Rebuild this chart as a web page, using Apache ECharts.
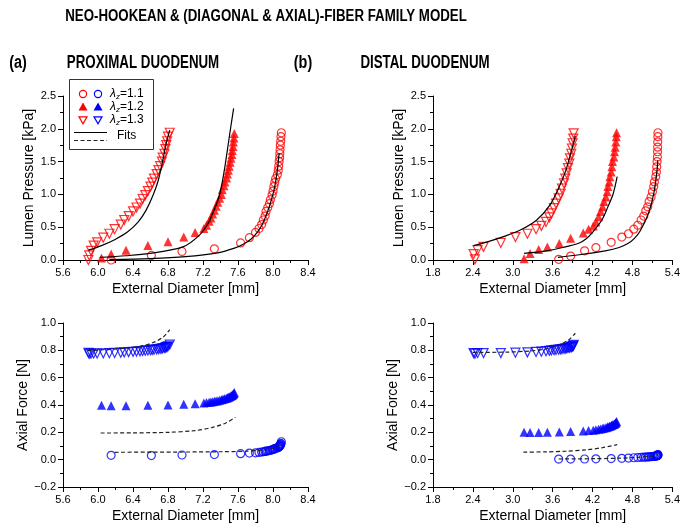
<!DOCTYPE html>
<html><head><meta charset="utf-8">
<script src="https://cdn.jsdelivr.net/npm/echarts@6/dist/echarts.min.js"></script>
<style>html,body{margin:0;padding:0;background:#fff}#c{width:683px;height:530px}</style>
</head><body><div id="c"></div>
<script>
// ---------- PROXIMAL DUODENUM (measured) ----------
const pD11 = [6.15, 6.61, 6.96, 7.33, 7.63, 7.73, 7.80, 7.84, 7.87, 7.89, 7.91, 7.92, 7.94, 7.96, 7.97, 7.99, 8.00, 8.01, 8.02, 8.03, 8.05, 8.06, 8.065, 8.07, 8.076, 8.078, 8.08, 8.084, 8.088, 8.091, 8.095];
const pP11 = [0.00, 0.07, 0.13, 0.17, 0.26, 0.34, 0.42, 0.48, 0.54, 0.61, 0.67, 0.74, 0.80, 0.86, 0.92, 0.99, 1.05, 1.12, 1.18, 1.24, 1.30, 1.37, 1.43, 1.50, 1.56, 1.62, 1.68, 1.75, 1.81, 1.88, 1.94];
const pF11 = [0.032, 0.030, 0.034, 0.037, 0.044, 0.048, 0.050, 0.053, 0.056, 0.058, 0.060, 0.062, 0.064, 0.067, 0.069, 0.072, 0.075, 0.077, 0.080, 0.083, 0.086, 0.089, 0.092, 0.095, 0.098, 0.101, 0.104, 0.108, 0.113, 0.119, 0.131];

const pD12 = [6.04, 6.15, 6.32, 6.57, 6.80, 6.98, 7.11, 7.21, 7.24, 7.27, 7.29, 7.31, 7.33, 7.35, 7.37, 7.39, 7.41, 7.42, 7.44, 7.45, 7.47, 7.48, 7.49, 7.50, 7.51, 7.52, 7.53, 7.535, 7.543, 7.547, 7.554, 7.558];
const pP12 = [0.03, 0.09, 0.15, 0.22, 0.28, 0.35, 0.42, 0.48, 0.53, 0.59, 0.64, 0.70, 0.76, 0.82, 0.88, 0.94, 1.00, 1.07, 1.13, 1.19, 1.25, 1.31, 1.37, 1.43, 1.49, 1.55, 1.61, 1.67, 1.73, 1.80, 1.86, 1.93];
const pF12 = [0.398, 0.395, 0.395, 0.398, 0.400, 0.405, 0.410, 0.415, 0.418, 0.420, 0.422, 0.424, 0.427, 0.429, 0.432, 0.435, 0.438, 0.441, 0.444, 0.447, 0.450, 0.453, 0.456, 0.459, 0.462, 0.465, 0.469, 0.472, 0.476, 0.480, 0.485, 0.491];

const pD13 = [5.89, 5.90, 5.92, 5.95, 5.99, 6.06, 6.13, 6.19, 6.26, 6.30, 6.35, 6.40, 6.44, 6.48, 6.51, 6.54, 6.57, 6.60, 6.62, 6.64, 6.67, 6.69, 6.71, 6.73, 6.74, 6.76, 6.77, 6.78, 6.79, 6.80, 6.82];
const pP13 = [0.00, 0.07, 0.14, 0.22, 0.27, 0.34, 0.40, 0.47, 0.54, 0.61, 0.67, 0.74, 0.80, 0.86, 0.93, 0.99, 1.05, 1.12, 1.18, 1.24, 1.31, 1.37, 1.43, 1.50, 1.56, 1.62, 1.69, 1.75, 1.81, 1.88, 1.94];
const pF13 = [0.782, 0.775, 0.776, 0.777, 0.777, 0.778, 0.779, 0.781, 0.783, 0.785, 0.787, 0.789, 0.791, 0.793, 0.795, 0.797, 0.799, 0.801, 0.803, 0.805, 0.807, 0.809, 0.811, 0.813, 0.815, 0.817, 0.820, 0.823, 0.826, 0.830, 0.842];

// ---------- PROXIMAL fits ----------
const fpD11 = [6.13, 6.6, 7.0, 7.37, 7.56, 7.66, 7.75, 7.82, 7.88, 7.93, 7.98, 8.02, 8.05, 8.07];
const fpP11 = [0.005, 0.02, 0.05, 0.11, 0.18, 0.24, 0.32, 0.42, 0.55, 0.71, 0.91, 1.12, 1.37, 1.63];
const fpD12 = [6.02, 6.32, 6.59, 6.97, 7.16, 7.26, 7.31, 7.37, 7.41, 7.45, 7.49, 7.52, 7.55];
const fpP12 = [0.04, 0.065, 0.10, 0.20, 0.38, 0.56, 0.71, 0.91, 1.12, 1.42, 1.78, 2.05, 2.31];
const fpD13 = [5.89, 6.04, 6.19, 6.34, 6.46, 6.55, 6.63, 6.69, 6.74, 6.78, 6.82];
const fpP13 = [0.15, 0.22, 0.31, 0.43, 0.58, 0.76, 0.99, 1.22, 1.52, 1.78, 1.98];

const ffpD11 = [6.19, 6.6, 7.0, 7.4, 7.7, 7.9, 8.0, 8.06, 8.09];
const ffpF11 = [0.054, 0.055, 0.056, 0.058, 0.062, 0.072, 0.085, 0.10, 0.115];
const ffpD12 = [6.03, 6.4, 6.8, 7.1, 7.3, 7.45, 7.57];
const ffpF12 = [0.195, 0.196, 0.200, 0.212, 0.235, 0.265, 0.31];
const ffpD13 = [5.88, 6.21, 6.48, 6.65, 6.75, 6.82];
const ffpF13 = [0.798, 0.81, 0.829, 0.862, 0.90, 0.951];

// ---------- DISTAL DUODENUM (measured) ----------
const dD11 = [3.69, 3.87, 4.08, 4.25, 4.48, 4.64, 4.74, 4.82, 4.88, 4.93, 4.97, 5.00, 5.03, 5.05, 5.08, 5.10, 5.12, 5.13, 5.15, 5.16, 5.165, 5.17, 5.175, 5.177, 5.179, 5.18, 5.182, 5.183];
const dP11 = [0.01, 0.06, 0.14, 0.19, 0.27, 0.35, 0.40, 0.47, 0.53, 0.61, 0.67, 0.75, 0.81, 0.89, 0.96, 1.04, 1.12, 1.19, 1.27, 1.34, 1.42, 1.50, 1.57, 1.65, 1.72, 1.80, 1.88, 1.94];
const dF11 = [0.004, 0.004, 0.005, 0.006, 0.008, 0.010, 0.012, 0.014, 0.016, 0.017, 0.018, 0.019, 0.020, 0.021, 0.022, 0.023, 0.024, 0.025, 0.026, 0.027, 0.028, 0.029, 0.030, 0.031, 0.032, 0.033, 0.035, 0.037];

const dD12 = [3.17, 3.26, 3.39, 3.52, 3.70, 3.87, 4.06, 4.14, 4.21, 4.25, 4.29, 4.32, 4.35, 4.37, 4.40, 4.42, 4.43, 4.45, 4.46, 4.48, 4.49, 4.50, 4.52, 4.53, 4.54, 4.55, 4.556, 4.561];
const dP12 = [0.02, 0.10, 0.16, 0.20, 0.25, 0.33, 0.41, 0.47, 0.52, 0.58, 0.66, 0.74, 0.81, 0.89, 0.96, 1.04, 1.12, 1.19, 1.27, 1.34, 1.42, 1.50, 1.57, 1.65, 1.72, 1.80, 1.88, 1.94];
const dF12 = [0.200, 0.198, 0.198, 0.200, 0.203, 0.206, 0.210, 0.213, 0.216, 0.219, 0.222, 0.225, 0.228, 0.231, 0.234, 0.237, 0.240, 0.243, 0.246, 0.249, 0.252, 0.255, 0.258, 0.261, 0.265, 0.269, 0.274, 0.280];

const dD13 = [2.41, 2.43, 2.47, 2.56, 2.82, 3.04, 3.22, 3.35, 3.43, 3.50, 3.55, 3.58, 3.62, 3.65, 3.69, 3.72, 3.74, 3.77, 3.79, 3.81, 3.83, 3.85, 3.86, 3.88, 3.89, 3.90, 3.91, 3.915];
const dP13 = [0.09, 0.01, 0.15, 0.20, 0.26, 0.35, 0.40, 0.47, 0.52, 0.58, 0.65, 0.71, 0.79, 0.86, 0.94, 1.01, 1.09, 1.17, 1.24, 1.32, 1.40, 1.47, 1.55, 1.62, 1.70, 1.78, 1.85, 1.93];
const dF13 = [0.780, 0.775, 0.780, 0.780, 0.780, 0.783, 0.785, 0.788, 0.790, 0.794, 0.797, 0.799, 0.801, 0.803, 0.805, 0.807, 0.809, 0.811, 0.813, 0.815, 0.817, 0.819, 0.821, 0.823, 0.826, 0.829, 0.833, 0.840];

// ---------- DISTAL fits ----------
const fdD11 = [3.68, 4.00, 4.39, 4.60, 4.73, 4.83, 4.92, 5.04, 5.12, 5.17, 5.18];
const fdP11 = [0.04, 0.08, 0.14, 0.19, 0.25, 0.33, 0.45, 0.71, 1.01, 1.37, 1.52];
const fdD12 = [3.17, 3.51, 3.75, 4.00, 4.10, 4.19, 4.34, 4.43, 4.51, 4.57];
const fdP12 = [0.10, 0.14, 0.19, 0.26, 0.32, 0.41, 0.61, 0.81, 1.01, 1.27];
const fdD13 = [2.41, 2.63, 2.87, 3.12, 3.36, 3.56, 3.70, 3.80, 3.87, 3.94];
const fdP13 = [0.22, 0.28, 0.36, 0.46, 0.61, 0.84, 1.12, 1.37, 1.62, 1.89];

const ffdD11 = [3.69, 4.2, 4.6, 4.9, 5.1, 5.18];
const ffdF11 = [0.005, 0.007, 0.011, 0.018, 0.028, 0.038];
const ffdD12 = [3.16, 3.5, 3.8, 4.1, 4.35, 4.57];
const ffdF12 = [0.055, 0.057, 0.062, 0.072, 0.088, 0.11];
const ffdD13 = [2.40, 2.9, 3.25, 3.5, 3.7, 3.85, 3.94];
const ffdF13 = [0.785, 0.787, 0.795, 0.81, 0.84, 0.88, 0.925];

// ---------- text ----------
const mainTitle = 'NEO-HOOKEAN & (DIAGONAL & AXIAL)-FIBER FAMILY MODEL';
const panelTags = ['(a)', '(b)'];
const panelTitles = ['PROXIMAL DUODENUM', 'DISTAL DUODENUM'];
const xName = 'External Diameter [mm]';
const yNames = ['Lumen Pressure [kPa]', 'Axial Force [N]'];
const lambdaLabels = ['1.1', '1.2', '1.3'];

const FONT = '"Liberation Sans", Arial, sans-serif';
const RED = '#ff0000', BLUE = '#0000ff';
const zip = (xs, ys) => xs.map((x, i) => [x, ys[i]]);

function scat(g, xs, ys, kind, color) {
  const s = { type: 'scatter', xAxisIndex: g, yAxisIndex: g, data: zip(xs, ys), symbolSize: 8, z: 2, silent: true };
  if (kind === 'circle') { s.symbol = 'circle'; s.itemStyle = { color: 'rgba(0,0,0,0)', borderColor: color, borderWidth: 1.2 }; }
  if (kind === 'up') { s.symbol = 'triangle'; s.symbolSize = 9; s.itemStyle = { color: color }; }
  if (kind === 'down') { s.symbol = 'triangle'; s.symbolRotate = 180; s.symbolSize = 9; s.itemStyle = { color: 'rgba(0,0,0,0)', borderColor: color, borderWidth: 1.2 }; }
  return s;
}
function fit(g, xs, ys, dashed) {
  return { type: 'line', xAxisIndex: g, yAxisIndex: g, data: zip(xs, ys), smooth: 0.3,
    showSymbol: false, symbol: 'none', z: 3, silent: true,
    lineStyle: { color: dashed ? '#222' : '#000', width: 1.2, type: dashed ? [4, 2.5] : 'solid' } };
}
const axCommon = {
  type: 'value',
  nameLocation: 'middle',
  nameTextStyle: { fontSize: 14, fontFamily: FONT, color: '#000' },
  axisLine: { show: true, onZero: false, lineStyle: { color: '#000', width: 1 } },
  axisTick: { show: true, inside: false, length: 5, lineStyle: { color: '#000', width: 1 } },
  minorTick: { show: true, splitNumber: 2, length: 3, lineStyle: { color: '#000', width: 1 } },
  splitLine: { show: false },
};
const fmt = v => (v < 0 ? '\u2212' : '') + Math.abs(v).toFixed(1);
function xAx(g, min, max, iv) {
  return Object.assign({}, axCommon, { gridIndex: g, min, max, interval: iv, name: xName, nameGap: 22,
    axisLabel: { fontSize: 11, fontFamily: FONT, color: '#000', margin: 7, formatter: fmt, showMinLabel: true, showMaxLabel: true } });
}
function yAx(g, min, max, iv, name) {
  return Object.assign({}, axCommon, { gridIndex: g, min, max, interval: iv, name: name, nameGap: 27,
    axisLabel: { fontSize: 11, fontFamily: FONT, color: '#000', margin: 7, formatter: fmt, showMinLabel: true, showMaxLabel: true } });
}

// legend graphic
function legendGraphics() {
  const els = [];
  els.push({ type: 'rect', shape: { x: 69.5, y: 79.5, width: 84, height: 70 }, style: { fill: '#fff', stroke: '#333', lineWidth: 1 }, z: 10 });
  const rows = [94, 107, 120];
  const cols = [{ x: 83, c: RED }, { x: 98, c: BLUE }];
  rows.forEach((y, i) => {
    cols.forEach(col => {
      if (i === 0) els.push({ type: 'circle', shape: { cx: col.x, cy: y, r: 3.6 }, style: { fill: 'none', stroke: col.c, lineWidth: 1.2 }, z: 11 });
      if (i === 1) els.push({ type: 'polygon', shape: { points: [[col.x, y - 4.5], [col.x + 4.5, y + 3.5], [col.x - 4.5, y + 3.5]] }, style: { fill: col.c }, z: 11 });
      if (i === 2) els.push({ type: 'polygon', shape: { points: [[col.x - 4, y - 3.2], [col.x + 4, y - 3.2], [col.x, y + 3.8]] }, style: { fill: 'none', stroke: col.c, lineWidth: 1.2 }, z: 11 });
    });
    els.push({ type: 'text', x: 110, y: y, z: 11, style: {
      text: '{l|λ}{s|z}{n|=' + lambdaLabels[i] + '}', verticalAlign: 'middle', align: 'left',
      rich: { l: { fontSize: 12, fontStyle: 'italic', fontFamily: FONT, fill: '#000' },
              s: { fontSize: 8, fontStyle: 'italic', fontFamily: FONT, fill: '#000', padding: [6, 0, 0, 0] },
              n: { fontSize: 12, fontFamily: FONT, fill: '#000' } } } });
  });
  els.push({ type: 'line', shape: { x1: 74, y1: 132.5, x2: 107, y2: 132.5 }, style: { stroke: '#000', lineWidth: 1.2 }, z: 11 });
  els.push({ type: 'line', shape: { x1: 74, y1: 140.5, x2: 107, y2: 140.5 }, style: { stroke: '#222', lineWidth: 1.2, lineDash: [4, 2.5] }, z: 11 });
  els.push({ type: 'text', x: 117, y: 136, z: 11, style: { text: 'Fits', fontSize: 12, fontFamily: FONT, fill: '#000', verticalAlign: 'middle' } });
  return els;
}

function boldText(txt, cx, cy, size, sx) {
  return { type: 'text', x: cx, y: cy, scaleX: sx, scaleY: 1,
    style: { text: txt, fontSize: size, fontWeight: 'bold', fontFamily: FONT, fill: '#000', align: 'center', verticalAlign: 'middle' } };
}
const titleGraphics = [
  boldText(mainTitle, 266, 17, 16, 0.83),
  boldText(panelTags[0], 18, 63, 18, 0.8),
  boldText(panelTitles[0], 143, 63, 18, 0.74),
  boldText(panelTags[1], 303, 63, 18, 0.8),
  boldText(panelTitles[1], 425, 63, 18, 0.74),
];

const chart = echarts.init(document.getElementById('c'), null, { renderer: 'canvas' });
chart.setOption({
  animation: false,
  backgroundColor: '#fff',
  grid: [
    { left: 63, top: 96, width: 245, height: 164 },
    { left: 433, top: 96, width: 246, height: 164 },
    { left: 63, top: 323, width: 245, height: 164 },
    { left: 433, top: 323, width: 246, height: 164 },
  ],
  xAxis: [xAx(0, 5.6, 8.4, 0.4), xAx(1, 1.8, 5.4, 0.6), xAx(2, 5.6, 8.4, 0.4), xAx(3, 1.8, 5.4, 0.6)],
  yAxis: [yAx(0, 0, 2.5, 0.5, yNames[0]), yAx(1, 0, 2.5, 0.5, yNames[0]), yAx(2, -0.2, 1.0, 0.2, yNames[1]), yAx(3, -0.2, 1.0, 0.2, yNames[1])],
  series: [
    scat(0, pD11, pP11, 'circle', RED), scat(0, pD12, pP12, 'up', RED), scat(0, pD13, pP13, 'down', RED),
    fit(0, fpD11, fpP11, false), fit(0, fpD12, fpP12, false), fit(0, fpD13, fpP13, false),
    scat(1, dD11, dP11, 'circle', RED), scat(1, dD12, dP12, 'up', RED), scat(1, dD13, dP13, 'down', RED),
    fit(1, fdD11, fdP11, false), fit(1, fdD12, fdP12, false), fit(1, fdD13, fdP13, false),
    scat(2, pD11, pF11, 'circle', BLUE), scat(2, pD12, pF12, 'up', BLUE), scat(2, pD13, pF13, 'down', BLUE),
    fit(2, ffpD11, ffpF11, true), fit(2, ffpD12, ffpF12, true), fit(2, ffpD13, ffpF13, true),
    scat(3, dD11, dF11, 'circle', BLUE), scat(3, dD12, dF12, 'up', BLUE), scat(3, dD13, dF13, 'down', BLUE),
    fit(3, ffdD11, ffdF11, true), fit(3, ffdD12, ffdF12, true), fit(3, ffdD13, ffdF13, true),
  ],
  graphic: titleGraphics.concat(legendGraphics()),
});
</script></body></html>
